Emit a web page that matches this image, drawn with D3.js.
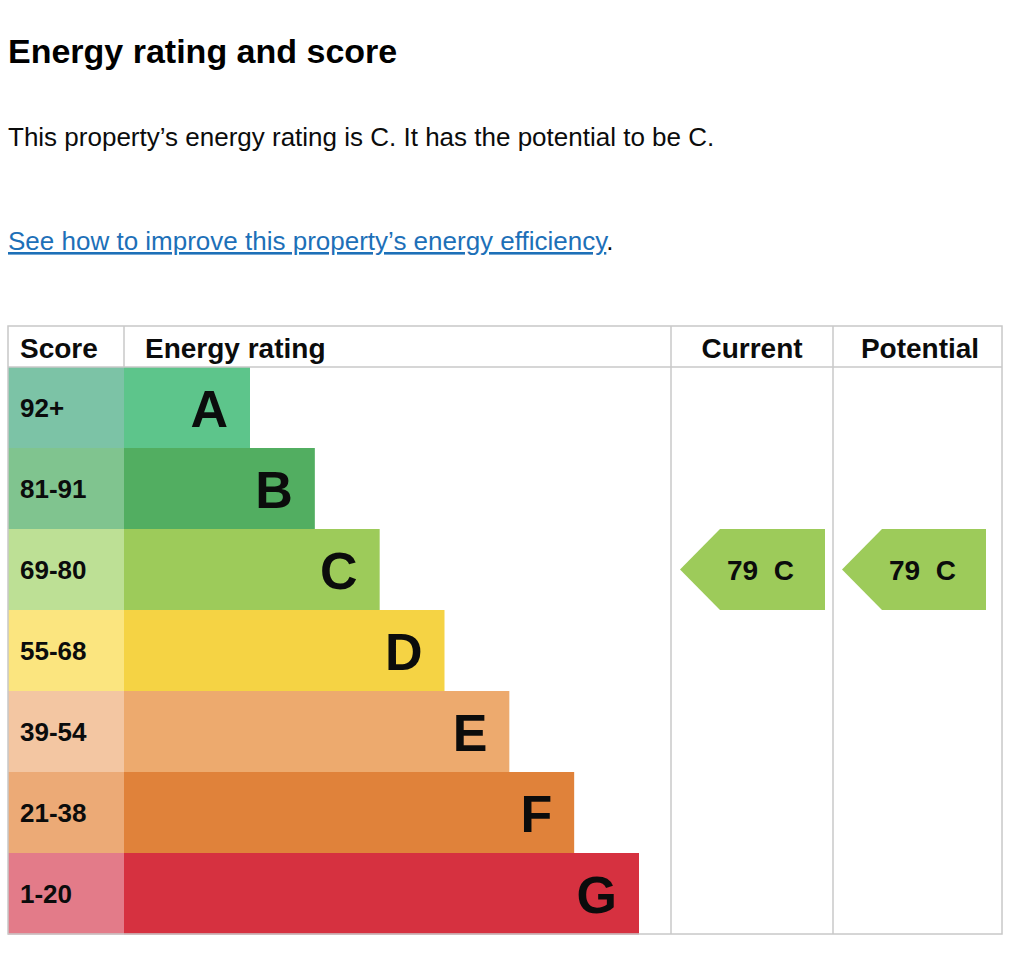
<!DOCTYPE html>
<html><head><meta charset="utf-8">
<script src="https://cdn.jsdelivr.net/npm/d3@7"></script>
<style>body{margin:0;background:#fff;font-family:"Liberation Sans",Arial,sans-serif;}</style>
</head><body><svg id="epc"></svg>
<script>
const bands = ["A", "B", "C", "D", "E", "F", "G"];
const scores = ["92+", "81-91", "69-80", "55-68", "39-54", "21-38", "1-20"];
const barColors = ["#5dc58b", "#52ae61", "#9dcb5a", "#f5d344", "#edaa6e", "#e0823a", "#d63140"];
const scoreColors = ["#7cc3a6", "#80c48f", "#bde095", "#fbe57f", "#f3c6a2", "#ecaa76", "#e37b89"];
const current = {score: 79, band: "C"};
const potential = {score: 79, band: "C"};

const svg = d3.select("#epc").attr("width", 1024).attr("height", 957);

svg.append("text").attr("x", 8).attr("y", 63)
	.style("font-size", "34px").style("font-weight", "bold").text("Energy rating and score");
svg.append("text").attr("x", 8).attr("y", 146)
	.style("font-size", "26px").attr("fill", "#0b0c0c")
	.text(`This property’s energy rating is ${current.band}. It has the potential to be ${potential.band}.`);
const link = svg.append("text").attr("x", 8).attr("y", 250).style("font-size", "26px");
link.append("tspan").attr("fill", "#1d70b8").attr("text-decoration", "underline")
	.text("See how to improve this property’s energy efficiency");
link.append("tspan").attr("fill", "#0b0c0c").text(".");

const tLeft = 8, tRight = 1002, tTop = 326, tHead = 367, tBottom = 934;
const scoreRight = 124, curLeft = 671, potLeft = 833;

const y = d3.scaleBand().domain(bands).range([tHead, tBottom]);
const barEnd = d3.scaleLinear().domain([0, 6]).range([250, 639]);

const g = svg.append("g");
g.selectAll(".score").data(bands).enter().append("rect")
	.attr("x", tLeft).attr("y", d => y(d)).attr("width", scoreRight - tLeft).attr("height", y.bandwidth() + 0.5)
	.attr("fill", (d, i) => scoreColors[i]);
g.selectAll(".bar").data(bands).enter().append("rect")
	.attr("x", scoreRight).attr("y", d => y(d)).attr("width", (d, i) => barEnd(i) - scoreRight)
	.attr("height", y.bandwidth() + 0.5).attr("fill", (d, i) => barColors[i]);
g.selectAll(".scoreLabel").data(bands).enter().append("text")
	.attr("x", 20).attr("y", d => y(d) + y.bandwidth() / 2).attr("dy", "0.36em")
	.style("font-size", "26px").style("font-weight", "bold").attr("fill", "#0b0c0c")
	.text((d, i) => scores[i]);
g.selectAll(".letter").data(bands).enter().append("text")
	.attr("x", (d, i) => barEnd(i) - 22).attr("y", d => y(d) + y.bandwidth() / 2).attr("dy", "0.38em")
	.attr("text-anchor", "end").style("font-size", "52px").style("font-weight", "bold").attr("fill", "#0b0c0c")
	.text(d => d);

// grid lines
const line = (x1, y1, x2, y2) => svg.append("line").attr("x1", x1).attr("y1", y1).attr("x2", x2).attr("y2", y2)
	.attr("stroke", "#c8c8c8").attr("stroke-width", 1.5);
svg.append("rect").attr("x", tLeft).attr("y", tTop).attr("width", tRight - tLeft).attr("height", tBottom - tTop)
	.attr("fill", "none").attr("stroke", "#c8c8c8").attr("stroke-width", 1.5);
line(tLeft, tHead, tRight, tHead);
line(scoreRight, tTop, scoreRight, tHead);
line(curLeft, tTop, curLeft, tBottom);
line(potLeft, tTop, potLeft, tBottom);

const headers = [["Score", 20, "start"], ["Energy rating", 145, "start"], ["Current", 752, "middle"], ["Potential", 920, "middle"]];
svg.selectAll(".hdr").data(headers).enter().append("text")
	.attr("x", d => d[1]).attr("y", 358).attr("text-anchor", d => d[2])
	.style("font-size", "28px").style("font-weight", "bold").attr("fill", "#0b0c0c").text(d => d[0]);

function arrow(rating, x0, x1) {
	const yy = y(rating.band), h = y.bandwidth(), i = bands.indexOf(rating.band);
	const pts = [[x0, yy + h / 2], [x0 + 40, yy], [x1, yy], [x1, yy + h], [x0 + 40, yy + h]];
	svg.append("path").attr("d", d3.line()(pts) + "Z").attr("fill", barColors[i]);
	svg.append("text").attr("x", x0 + 47).attr("y", yy + h / 2).attr("dy", "0.36em")
		.style("font-size", "28px").style("font-weight", "bold").attr("fill", "#0b0c0c")
		.attr("xml:space", "preserve").text(`${rating.score}  ${rating.band}`);
}
arrow(current, 680, 825);
arrow(potential, 842, 986);
</script></body></html>
